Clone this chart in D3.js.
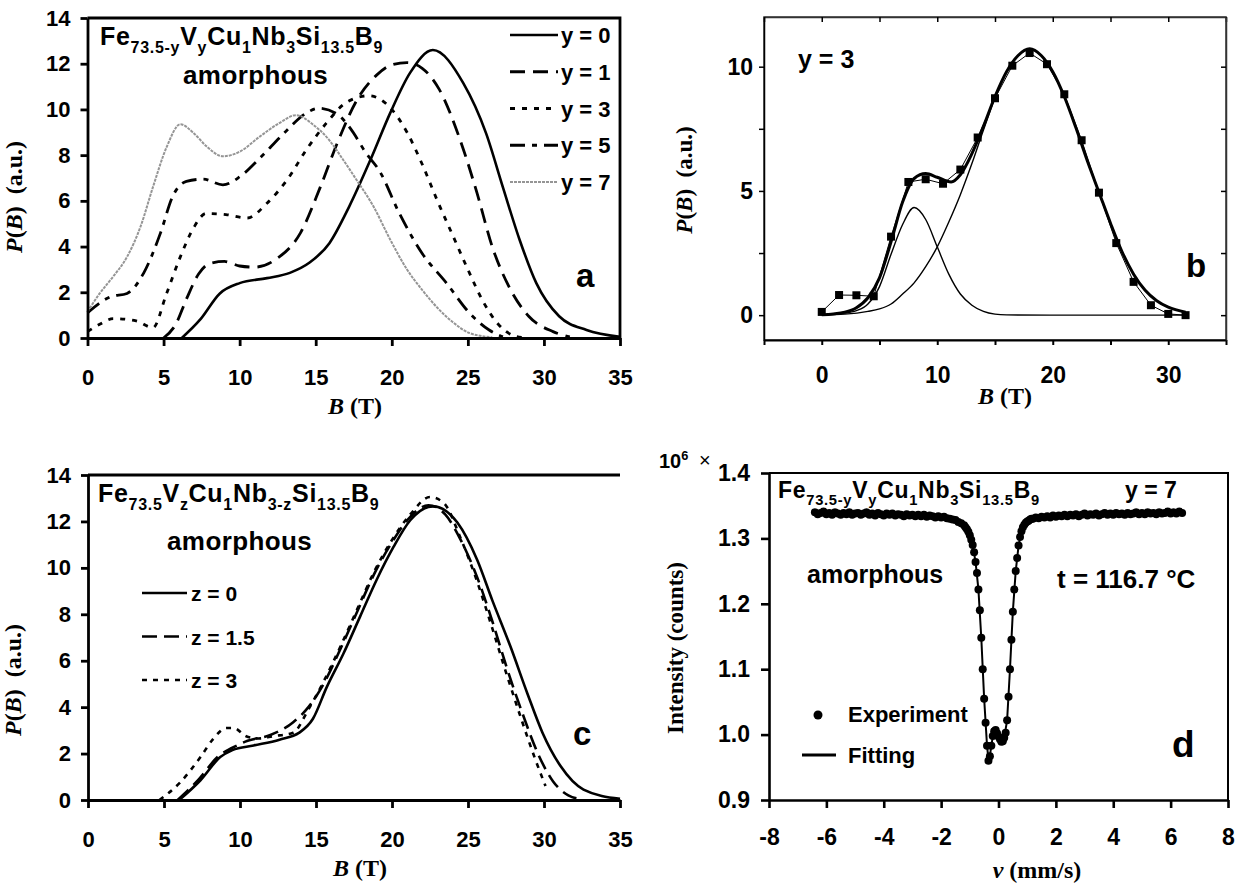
<!DOCTYPE html>
<html>
<head>
<meta charset="utf-8">
<script src="https://cdn.jsdelivr.net/npm/d3@7"></script>
<style>
body { margin: 0; background: #fff; }
svg text { font-family: "Liberation Sans", Arial, sans-serif; font-weight: bold; fill: #000; }
</style>
</head>
<body>
<div id="chart"></div>
<script>
var svgWidth = 1242;
var svgHeight = 886;

// panel a: P(B) of Fe73.5-yVyCu1Nb3Si13.5B9, [B, P]
var aY0 = [[6.2,0],[7.4,0.8],[8.7,1.95],[10,2.4],[11.8,2.62],[13.3,2.85],[14.6,3.3],[15.9,4.15],[17.2,5.75],[18.6,7.8],[19.9,9.85],[21.2,11.6],[22.7,12.6],[24.7,11.15],[26.2,8.95],[27.3,6.6],[28.4,4.3],[29.5,2.4],[31,0.95],[32.8,0.35],[35,0.05]];
var aY1 = [[5,0],[5.8,0.6],[6.5,1.7],[7.3,2.8],[8,3.25],[9,3.35],[10,3.15],[11,3.1],[12.4,3.45],[14,4.6],[15.3,6.6],[16.4,8.5],[17.7,10.4],[19,11.5],[20,11.95],[21,12.05],[22,11.8],[23.1,10.9],[24.5,8.65],[25.6,6.35],[26.6,4.0],[27.7,2.25],[29,0.95],[30.6,0.28],[31.7,0.05]];
var aY3 = [[0,0.28],[0.8,0.6],[1.7,0.85],[3.2,0.75],[4.3,0.45],[5.2,1.95],[6.1,3.55],[7,4.85],[7.8,5.45],[9.1,5.4],[10.5,5.25],[11.8,5.9],[13.1,6.9],[14.4,8.25],[15.7,9.4],[17,10.3],[18.5,10.6],[20,10.0],[21,9.0],[22,7.6],[23,6.0],[24,4.5],[25,3.0],[26,1.6],[27,0.6],[28,0.1],[28.6,0.02]];
var aY5 = [[0,1.1],[1.5,1.8],[2.6,1.95],[3.7,2.85],[4.8,4.6],[5.6,6.2],[6.5,6.85],[7.6,6.95],[8.9,6.7],[10,7.05],[11.3,7.85],[12.9,8.95],[14.4,9.85],[15.2,10.05],[16.4,9.8],[17.3,9.15],[18.3,8.1],[19.2,7.3],[20.5,5.45],[22,3.7],[23.6,2.4],[25.1,1.1],[26.4,0.35],[27.3,0.05]];
var aY7 = [[0,1.15],[0.8,1.95],[1.7,2.7],[2.6,3.55],[3.5,4.9],[4.3,6.6],[5.2,8.35],[6.1,9.35],[7,8.95],[7.8,8.4],[8.9,7.95],[10,8.15],[11.3,8.8],[12.6,9.4],[13.7,9.75],[14.8,9.35],[15.9,8.65],[16.8,7.8],[17.7,6.9],[18.8,5.75],[19.9,4.3],[21,3.0],[22,2.1],[23.1,1.25],[24,0.7],[25.1,0.22],[26.6,0.03]];
var aLegend = ["y = 0", "y = 1", "y = 3", "y = 5", "y = 7"];
var aTicksX = [0, 5, 10, 15, 20, 25, 30, 35];
var aTicksY = [0, 2, 4, 6, 8, 10, 12, 14];

// panel b: y = 3, experiment and two-component fit
var bField = [0, 1.5, 3, 4.5, 6, 7.5, 9, 10.5, 12, 13.5, 15, 16.5, 18, 19.5, 21, 22.5, 24, 25.5, 27, 28.5, 30, 31.5];
var bExp = [0.13, 0.81, 0.8, 0.76, 3.16, 5.36, 5.47, 5.29, 5.86, 7.15, 8.73, 10.04, 10.55, 10.1, 8.89, 7.04, 4.93, 2.9, 1.34, 0.4, 0.05, 0];
var bFit = [[0,0.02],[1,0.05],[2,0.12],[3,0.3],[4,0.7],[5,1.5],[6,2.95],[7,4.55],[8,5.5],[9,5.7],[10,5.55],[11.2,5.36],[12,5.65],[13,6.5],[14,7.6],[15,8.8],[16,9.8],[17,10.45],[18,10.72],[19,10.45],[20,9.8],[21,8.8],[22,7.55],[23,6.2],[24,4.95],[25,3.7],[26,2.55],[27,1.65],[28,1.0],[29,0.58],[30,0.32],[31.5,0.12]];
var bComp1 = [[0,0.02],[2,0.08],[3,0.18],[4,0.45],[5,1.15],[6,2.45],[7,3.65],[8,4.33],[9,3.85],[10,2.75],[11,1.65],[12,0.85],[13,0.4],[14,0.15],[15,0.04],[16,0.01],[20,0],[31.5,0]];
var bComp2 = [[0,0.01],[2,0.04],[4,0.15],[5,0.25],[6,0.45],[7,0.85],[8,1.3],[9,1.95],[10,2.75],[11,3.75],[12,4.85],[13,6.1],[14,7.45],[15,8.75],[16,9.8],[17,10.45],[18,10.7],[19,10.45],[20,9.8],[21,8.8],[22,7.55],[23,6.2],[24,4.95],[25,3.7],[26,2.55],[27,1.65],[28,1.0],[29,0.58],[30,0.32],[31.5,0.12]];
var bTicksX = [-5, 0, 5, 10, 15, 20, 25, 30, 35];
var bLabelsX = [0, 10, 20, 30];
var bTicksY = [0, 2.5, 5, 7.5, 10];

// panel c: Fe73.5VzCu1Nb3-zSi13.5B9
var cZ0 = [[6,0],[7.4,0.85],[8.7,1.85],[9.5,2.15],[10.9,2.35],[12.6,2.6],[13.9,2.9],[14.8,3.5],[15.7,4.85],[16.8,6.3],[17.9,7.9],[19,9.5],[20.1,10.9],[21.2,12.05],[22.7,12.65],[24.3,11.95],[25.6,10.35],[26.6,8.6],[27.8,6.6],[28.9,4.6],[29.9,2.9],[31.1,1.45],[32.6,0.45],[35,0.05]];
var cZ15 = [[5.9,0],[7.3,0.9],[8.6,1.9],[9.5,2.25],[10.5,2.55],[12,2.8],[13.5,3.35],[14.5,4.0],[15.5,5.0],[16.6,6.5],[17.7,8.1],[18.8,9.7],[20,11.1],[21.2,12.2],[22.4,12.7],[23.5,12.3],[24.6,11.1],[25.6,9.6],[26.6,7.7],[27.6,5.6],[28.6,3.7],[29.6,2.0],[30.6,0.8],[31.6,0.2],[32.5,0.03]];
var cZ3 = [[4.7,0],[5.3,0.3],[6.05,0.75],[7.4,1.85],[8.2,2.6],[9.1,3.1],[9.6,3.1],[10.4,2.75],[11.2,2.65],[12.2,2.75],[13.5,2.9],[14.5,3.9],[15.5,5.1],[16.6,6.6],[17.7,8.2],[18.8,9.8],[20,11.2],[21.2,12.3],[22.5,13.05],[23.4,12.8],[24.5,11.3],[25.5,9.6],[26.5,7.6],[27.5,5.5],[28.5,3.5],[29.4,1.8],[30.1,0.6]];
var cLegend = ["z = 0", "z = 1.5", "z = 3"];

// panel d: Mossbauer spectrum, y = 7 at 116.7 C (counts / 10^6)
var dVel = [-6.4,-6.3,-6.2,-6.1,-6.0,-5.9,-5.8,-5.7,-5.6,-5.5,-5.4,-5.3,-5.2,-5.1,-5.0,-4.9,-4.8,-4.7,-4.6,-4.5,-4.4,-4.3,-4.2,-4.1,-4.0,-3.9,-3.8,-3.7,-3.6,-3.5,-3.4,-3.3,-3.2,-3.1,-3.0,-2.9,-2.8,-2.7,-2.6,-2.5,-2.4,-2.3,-2.2,-2.1,-2.0,-1.9,-1.8,-1.7,-1.6,-1.5,-1.4,-1.3,-1.2,
  -1.15,-1.10,-1.05,-1.00,-0.95,-0.90,-0.85,-0.80,-0.75,-0.70,-0.65,-0.60,-0.55,-0.50,-0.45,-0.40,-0.35,-0.30,-0.25,-0.20,-0.15,-0.10,-0.05,0.00,0.05,0.10,0.15,0.20,0.25,0.30,0.35,0.40,0.45,0.50,0.55,0.60,0.65,0.70,0.75,0.80,0.85,0.90,0.95,1.00,1.05,1.10,1.15,
  1.2,1.3,1.4,1.5,1.6,1.7,1.8,1.9,2.0,2.1,2.2,2.3,2.4,2.5,2.6,2.7,2.8,2.9,3.0,3.1,3.2,3.3,3.4,3.5,3.6,3.7,3.8,3.9,4.0,4.1,4.2,4.3,4.4,4.5,4.6,4.7,4.8,4.9,5.0,5.1,5.2,5.3,5.4,5.5,5.6,5.7,5.8,5.9,6.0,6.1,6.2,6.3,6.4];
var dCounts = [1.340,1.337,1.339,1.341,1.337,1.339,1.336,1.340,1.338,1.336,1.339,1.337,1.340,1.336,1.338,1.339,1.336,1.338,1.340,1.336,1.338,1.335,1.339,1.337,1.335,1.338,1.336,1.338,1.335,1.337,1.336,1.334,1.337,1.335,1.336,1.334,1.336,1.334,1.336,1.333,1.335,1.334,1.332,1.334,1.332,1.333,1.331,1.330,1.329,1.328,1.325,1.323,1.320,
  1.317,1.314,1.310,1.305,1.298,1.290,1.279,1.264,1.247,1.222,1.190,1.148,1.100,1.055,1.018,0.983,0.960,0.967,0.983,0.998,1.005,1.007,1.002,0.997,0.993,0.989,0.990,0.995,1.003,1.022,1.058,1.100,1.145,1.188,1.222,1.250,1.270,1.289,1.302,1.311,1.317,1.321,1.324,1.326,1.327,1.329,1.330,
  1.330,1.332,1.331,1.333,1.332,1.334,1.332,1.335,1.333,1.335,1.334,1.336,1.334,1.336,1.335,1.337,1.334,1.336,1.338,1.335,1.337,1.336,1.338,1.335,1.337,1.339,1.336,1.338,1.336,1.339,1.337,1.338,1.336,1.339,1.337,1.338,1.340,1.337,1.339,1.337,1.340,1.338,1.339,1.337,1.340,1.338,1.339,1.341,1.338,1.340,1.338,1.341,1.339];
var dFit = [[-6.4,1.338],[-3,1.336],[-2,1.333],[-1.5,1.328],[-1.2,1.320],[-1.0,1.305],[-0.9,1.290],[-0.8,1.264],[-0.7,1.222],[-0.6,1.148],[-0.5,1.055],[-0.4,0.983],[-0.35,0.962],[-0.3,0.968],[-0.2,0.997],[-0.1,1.005],[0,0.997],[0.1,0.990],[0.2,0.995],[0.3,1.022],[0.4,1.100],[0.5,1.188],[0.6,1.250],[0.7,1.289],[0.8,1.311],[0.9,1.321],[1.0,1.326],[1.5,1.332],[3,1.336],[6.4,1.338]];
var dTicksX = [-8, -6, -4, -2, 0, 2, 4, 6, 8];
var dTicksY = [0.9, 1.0, 1.1, 1.2, 1.3, 1.4];

var serif = '"Liberation Serif", "Times New Roman", serif';

var svg = d3
  .select("#chart")
  .append("svg")
  .attr("width", svgWidth)
  .attr("height", svgHeight);
svg.append("rect").attr("width", svgWidth).attr("height", svgHeight).attr("fill", "#fff");

function lineGen(x, y, curve) {
  return d3.line()
    .x(d => x(d[0]))
    .y(d => y(d[1]))
    .curve(curve || d3.curveMonotoneX);
}

function styleAxis(g, size, width) {
  g.select(".domain").attr("stroke", "#000").attr("stroke-width", width);
  g.selectAll(".tick line").attr("stroke", "#000").attr("stroke-width", width);
  g.selectAll(".tick text").style("font-size", size + "px");
  return g;
}

// text with sub/superscripts, parts = [[text, "sub"|"sup"|undefined], ...]
function richText(g, x, y, parts, size, spacing) {
  var t = g.append("text").attr("x", x).attr("y", y)
    .style("font-size", size + "px")
    .style("letter-spacing", (spacing || 0) + "px");
  var shift = 0;
  parts.forEach(function(p) {
    var s = p[1] === "sub" ? size * 0.3 : (p[1] === "sup" ? -size * 0.42 : 0);
    t.append("tspan")
      .attr("dy", s - shift)
      .style("font-size", (p[1] ? size * 0.64 : size) + "px")
      .text(p[0]);
    shift = s;
  });
  return t;
}

function plainText(g, x, y, str, size, anchor) {
  return g.append("text").attr("x", x).attr("y", y)
    .attr("text-anchor", anchor || "start")
    .style("font-size", size + "px")
    .text(str);
}

// "P(B)  (a.u.)" style axis titles in bold serif, italic symbol
function serifLabel(g, x, y, parts, size, rotate) {
  var t = g.append("text")
    .attr("transform", `translate(${x}, ${y})` + (rotate ? " rotate(-90)" : ""))
    .attr("text-anchor", "middle")
    .style("font-family", serif)
    .style("font-size", size + "px");
  parts.forEach(function(p) {
    t.append("tspan").style("font-style", p[1] ? "italic" : "normal").text(p[0]);
  });
  return t;
}

var pbLabel = [["P", 1], ["("], ["B", 1], [")\u00a0\u00a0(a.u.)"]];
var btLabel = [["B", 1], ["\u00a0(T)"]];

// ---------- panel a ----------
var xA = d3.scaleLinear().domain([0, 35]).range([87.5, 620]);
var yA = d3.scaleLinear().domain([0, 14]).range([338, 18]);
var pa = svg.append("g");
var aSeries = [
  { data: aY0, dash: null, color: "#000", w: 2.6 },
  { data: aY1, dash: "15,8", color: "#000", w: 2.8 },
  { data: aY3, dash: "5,7", color: "#000", w: 2.8 },
  { data: aY5, dash: "15,7,5,7", color: "#000", w: 2.8 },
  { data: aY7, dash: "3,1", color: "#959595", w: 2 }
];
aSeries.forEach(function(s) {
  pa.append("path")
    .attr("d", lineGen(xA, yA)(s.data))
    .attr("fill", "none")
    .attr("stroke", s.color)
    .attr("stroke-width", s.w)
    .attr("stroke-dasharray", s.dash);
});
var aLegY = d3.scalePoint().domain(aLegend).range([35, 182]);
aLegend.forEach(function(name, i) {
  var s = aSeries[i];
  pa.append("line")
    .attr("x1", 510).attr("x2", 558)
    .attr("y1", aLegY(name)).attr("y2", aLegY(name))
    .attr("stroke", s.color).attr("stroke-width", s.w)
    .attr("stroke-dasharray", s.dash);
  plainText(pa, 561, aLegY(name) + 8, name, 22);
});
pa.append("path")
  .attr("d", `M${xA(0)},${yA(14)}H${xA(35)}V${yA(0)}`)
  .attr("fill", "none").attr("stroke", "#000").attr("stroke-width", 2.8);
styleAxis(pa.append("g")
  .attr("transform", `translate(0, ${yA(0)})`)
  .call(d3.axisBottom(xA).tickValues(aTicksX).tickSize(8).tickSizeOuter(0).tickPadding(23)), 22, 2.8);
styleAxis(pa.append("g")
  .attr("transform", `translate(${xA(0)}, 0)`)
  .call(d3.axisLeft(yA).tickValues(aTicksY).tickSize(7).tickSizeOuter(0).tickPadding(10)), 22, 2.8);
richText(pa, 100, 45, [["Fe"],["73.5-y","sub"],["V"],["y","sub"],["Cu"],["1","sub"],["Nb"],["3","sub"],["Si"],["13.5","sub"],["B"],["9","sub"]], 25, 0.7);
plainText(pa, 183, 84, "amorphous", 26).style("letter-spacing", "0.4px");
plainText(pa, 576, 287, "a", 33);
serifLabel(pa, 22, 197, pbLabel, 24, true);
serifLabel(pa, 355, 414, btLabel, 24, false);

// ---------- panel b ----------
var xB = d3.scaleLinear().domain([-5, 35]).range([764, 1226]);
var yB = d3.scaleLinear().domain([-1, 12]).range([340, 17]);
var pb = svg.append("g");
pb.append("rect")
  .attr("x", xB(-5)).attr("y", yB(12))
  .attr("width", xB(35) - xB(-5)).attr("height", yB(-1) - yB(12))
  .attr("fill", "none").attr("stroke", "#333").attr("stroke-width", 1.5);
pb.append("path").attr("d", lineGen(xB, yB)(bComp1))
  .attr("fill", "none").attr("stroke", "#000").attr("stroke-width", 1.4);
pb.append("path").attr("d", lineGen(xB, yB)(bComp2))
  .attr("fill", "none").attr("stroke", "#000").attr("stroke-width", 1.4);
pb.append("path").attr("d", lineGen(xB, yB, d3.curveLinear)(bField.map((f, i) => [f, bExp[i]])))
  .attr("fill", "none").attr("stroke", "#000").attr("stroke-width", 1);
pb.append("path").attr("d", lineGen(xB, yB)(bFit))
  .attr("fill", "none").attr("stroke", "#000").attr("stroke-width", 3);
pb.selectAll("rect.pt")
  .data(bField)
  .enter()
  .append("rect")
  .attr("class", "pt")
  .attr("x", d => xB(d) - 4)
  .attr("y", (d, i) => yB(bExp[i]) - 4)
  .attr("width", 8).attr("height", 8)
  .attr("fill", "#000");
styleAxis(pb.append("g")
  .attr("transform", `translate(0, ${yB(-1)})`)
  .call(d3.axisBottom(xB).tickValues(bTicksX).tickSize(5).tickSizeOuter(0).tickPadding(22)
    .tickFormat(d => bLabelsX.includes(d) ? d : "")), 23, 2);
styleAxis(pb.append("g")
  .attr("transform", `translate(0, ${yB(12)})`)
  .call(d3.axisTop(xB).tickValues(bTicksX).tickSize(-5).tickSizeOuter(0).tickFormat("")), 23, 1.5)
  .select(".domain").attr("stroke", "#333");
styleAxis(pb.append("g")
  .attr("transform", `translate(${xB(-5)}, 0)`)
  .call(d3.axisLeft(yB).tickValues(bTicksY).tickSize(5).tickSizeOuter(0).tickPadding(6)
    .tickFormat(d => d % 5 === 0 ? d : "")), 23, 1.5);
styleAxis(pb.append("g")
  .attr("transform", `translate(${xB(35)}, 0)`)
  .call(d3.axisRight(yB).tickValues(bTicksY).tickSize(-5).tickSizeOuter(0).tickFormat("")), 23, 1.5)
  .select(".domain").attr("stroke", "#333");
plainText(pb, 798, 68, "y = 3", 25);
plainText(pb, 1186, 277, "b", 33);
serifLabel(pb, 692, 180, pbLabel, 23, true);
serifLabel(pb, 1005, 404, btLabel, 24, false);

// ---------- panel c ----------
var xC = d3.scaleLinear().domain([0, 35]).range([88, 620]);
var yC = d3.scaleLinear().domain([0, 14]).range([800, 475]);
var pc = svg.append("g");
var cSeries = [
  { data: cZ0, dash: null },
  { data: cZ15, dash: "15,7" },
  { data: cZ3, dash: "5,6" }
];
cSeries.forEach(function(s) {
  pc.append("path")
    .attr("d", lineGen(xC, yC)(s.data))
    .attr("fill", "none")
    .attr("stroke", "#000")
    .attr("stroke-width", 2.6)
    .attr("stroke-dasharray", s.dash);
});
var cLegY = d3.scalePoint().domain(cLegend).range([593, 680]);
cLegend.forEach(function(name, i) {
  pc.append("line")
    .attr("x1", 142).attr("x2", 187)
    .attr("y1", cLegY(name)).attr("y2", cLegY(name))
    .attr("stroke", "#000").attr("stroke-width", 2.6)
    .attr("stroke-dasharray", cSeries[i].dash);
  plainText(pc, 191, cLegY(name) + 8, name, 21);
});
pc.append("line")
  .attr("x1", xC(0)).attr("x2", xC(35))
  .attr("y1", yC(14)).attr("y2", yC(14))
  .attr("stroke", "#000").attr("stroke-width", 2.8);
styleAxis(pc.append("g")
  .attr("transform", `translate(0, ${yC(0)})`)
  .call(d3.axisBottom(xC).tickValues(aTicksX).tickSize(8).tickSizeOuter(0).tickPadding(23)), 22, 2.8);
styleAxis(pc.append("g")
  .attr("transform", `translate(${xC(0)}, 0)`)
  .call(d3.axisLeft(yC).tickValues(aTicksY).tickSize(7).tickSizeOuter(0).tickPadding(10)), 22, 2.8);
richText(pc, 98, 502, [["Fe"],["73.5","sub"],["V"],["z","sub"],["Cu"],["1","sub"],["Nb"],["3-z","sub"],["Si"],["13.5","sub"],["B"],["9","sub"]], 25, 0.7);
plainText(pc, 167, 550, "amorphous", 26).style("letter-spacing", "0.4px");
plainText(pc, 573, 745, "c", 33);
serifLabel(pc, 21, 680, pbLabel, 24, true);
serifLabel(pc, 360, 876, btLabel, 24, false);

// ---------- panel d ----------
var xD = d3.scaleLinear().domain([-8, 8]).range([769, 1228]);
var yD = d3.scaleLinear().domain([0.9, 1.4]).range([800, 473]);
var pd = svg.append("g");
pd.append("path")
  .attr("d", `M${xD(-8)},${yD(1.4)}H${xD(8)}V${yD(0.9)}`)
  .attr("fill", "none").attr("stroke", "#000").attr("stroke-width", 2);
pd.append("path").attr("d", lineGen(xD, yD, d3.curveLinear)(dFit))
  .attr("fill", "none").attr("stroke", "#000").attr("stroke-width", 2);
pd.selectAll("circle.pt")
  .data(dVel)
  .enter()
  .append("circle")
  .attr("class", "pt")
  .attr("cx", d => xD(d))
  .attr("cy", (d, i) => yD(dCounts[i]))
  .attr("r", 4)
  .attr("fill", "#000");
styleAxis(pd.append("g")
  .attr("transform", `translate(0, ${yD(0.9)})`)
  .call(d3.axisBottom(xD).tickValues(dTicksX).tickSize(8).tickSizeOuter(0).tickPadding(21)
    .tickFormat(d => String(d))), 23, 2.6);
styleAxis(pd.append("g")
  .attr("transform", `translate(${xD(-8)}, 0)`)
  .call(d3.axisLeft(yD).tickValues(dTicksY).tickSize(8).tickSizeOuter(0).tickPadding(11)
    .tickFormat(d3.format(".1f"))), 23, 2.6);
richText(pd, 778, 498, [["Fe"],["73.5-y","sub"],["V"],["y","sub"],["Cu"],["1","sub"],["Nb"],["3","sub"],["Si"],["13.5","sub"],["B"],["9","sub"]], 23, 0.7);
plainText(pd, 1125, 498, "y = 7", 23);
plainText(pd, 807, 583, "amorphous", 25);
plainText(pd, 1057, 588, "t = 116.7 \u00b0C", 26);
plainText(pd, 1172, 757, "d", 37);
pd.append("circle").attr("cx", 818).attr("cy", 715).attr("r", 4.5).attr("fill", "#000");
plainText(pd, 848, 722, "Experiment", 22);
pd.append("line").attr("x1", 802).attr("x2", 836).attr("y1", 755).attr("y2", 755)
  .attr("stroke", "#000").attr("stroke-width", 3);
plainText(pd, 848, 763, "Fitting", 22);
richText(pd, 659, 468, [["10"], ["6", "sup"]], 20, 0);
pd.append("text").attr("x", 699).attr("y", 467)
  .style("font-size", "20px").style("font-weight", "normal").text("\u00d7");
serifLabel(pd, 683, 648, [["Intensity (counts)"]], 23, true);
serifLabel(pd, 1037, 878, [["v", 1], ["\u00a0(mm/s)"]], 24, false);
</script>
</body>
</html>
